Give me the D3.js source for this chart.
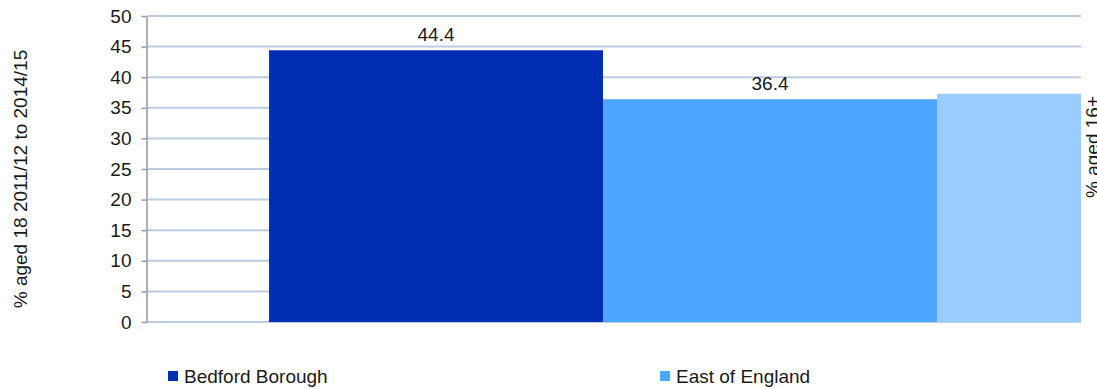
<!DOCTYPE html>
<html><head><meta charset="utf-8">
<script src="https://cdn.jsdelivr.net/npm/d3@7"></script>
<style>
body{margin:0;background:#fff;}
text{font-family:"Liberation Sans",Arial,sans-serif;fill:#1a1a1a;}
</style></head>
<body><svg id="c" width="1097" height="389"></svg>
<script>
const categories = ["2011/12 to 2014/15"];
const seriesNames = ["Bedford Borough", "East of England", "England"];
const seriesValues = [44.4, 36.4, 37.3];
const seriesColors = ["#002db2", "#4da6ff", "#99ccff"];
const yTicks = [0,5,10,15,20,25,30,35,40,45,50];
const yLabel = "% aged 18 2011/12 to 2014/15";
const y2Label = "% aged 16+";

const W = 1097, FS = 19;
const svg = d3.select("#c");
const plot = {left:147, right:1081, top:16, bottom:322, fullRight:1393};

const y = d3.scaleLinear().domain([0,50]).range([plot.bottom, plot.top]);
const x0 = d3.scaleBand().domain(categories).range([plot.left, plot.fullRight]).paddingInner(0).paddingOuter(0.1218);
const x1 = d3.scaleBand().domain(seriesNames).range([0, x0.bandwidth()]);

svg.append("defs").append("clipPath").attr("id","clip")
  .append("rect").attr("x",plot.left).attr("y",0).attr("width",plot.right-plot.left).attr("height",plot.bottom+2);

// gridlines
svg.append("g").selectAll("line").data(yTicks).join("line")
  .attr("x1",plot.left).attr("x2",plot.right)
  .attr("y1",d=>y(d)).attr("y2",d=>y(d))
  .attr("stroke","#b9cce4").attr("stroke-width",2);

// bars
const g = svg.append("g").attr("clip-path","url(#clip)");
const data = seriesNames.map((s,i)=>({cat:categories[0], s, v:seriesValues[i], c:seriesColors[i]}));
const cx = d=>x0(d.cat)+x1(d.s)+x1.bandwidth()/2;
g.selectAll("rect").data(data).join("rect")
  .attr("x",d=>x0(d.cat)+x1(d.s)).attr("width",x1.bandwidth())
  .attr("y",d=>y(d.v)).attr("height",d=>y(0)-y(d.v))
  .attr("fill",d=>d.c);
svg.append("g").selectAll("text").data(data.filter(d=>cx(d)+25<plot.right)).join("text")
  .attr("x",cx).attr("y",d=>y(d.v)-9)
  .attr("text-anchor","middle").attr("font-size",FS).text(d=>d.v.toFixed(1));

// y axis
const ax = svg.append("g").attr("transform",`translate(${plot.left-0.5},0)`)
  .call(d3.axisLeft(y).tickValues(yTicks).tickSize(5).tickPadding(10).tickSizeOuter(0));
ax.select(".domain").attr("stroke","#999").attr("stroke-width",1.5);
ax.selectAll(".tick line").attr("stroke","#999").attr("stroke-width",1.5);
ax.selectAll(".tick text").attr("font-size",FS).attr("fill","#1a1a1a").attr("font-family","Liberation Sans, Arial, sans-serif");

svg.append("text").attr("transform","translate(27,179) rotate(-90)")
  .attr("text-anchor","middle").attr("font-size",FS).text(yLabel);
svg.append("text").attr("transform","translate(1099,147) rotate(-90)")
  .attr("text-anchor","middle").attr("font-size",FS).text(y2Label);

// legend
const legendX = i=>168+i*492;
const lg = svg.append("g").selectAll("g").data(data.filter((d,i)=>legendX(i)+150<W)).join("g")
  .attr("transform",(d,i)=>`translate(${legendX(i)},371)`);
lg.append("rect").attr("width",10).attr("height",10).attr("fill",d=>d.c);
lg.append("text").attr("x",16).attr("y",11.5).attr("font-size",FS).text(d=>d.s);
</script></body></html>
